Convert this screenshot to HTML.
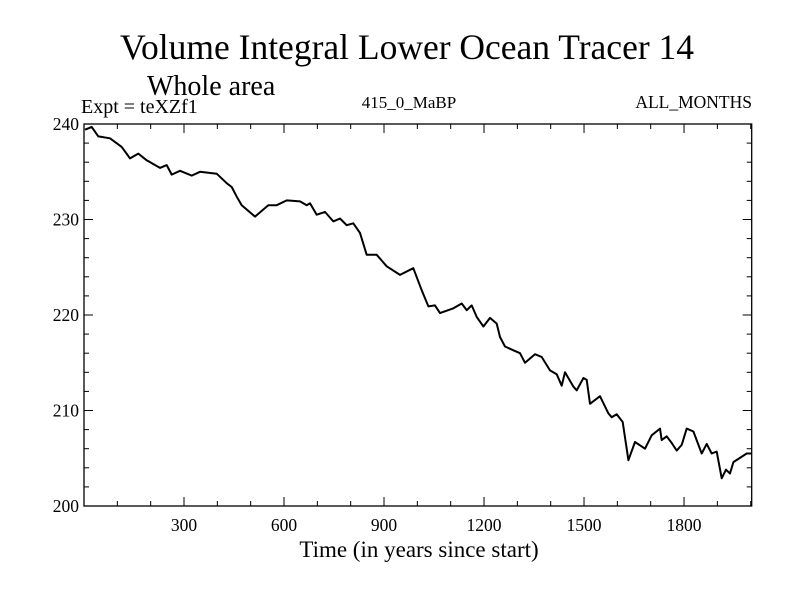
<!DOCTYPE html>
<html><head><meta charset="utf-8"><style>
body{margin:0;background:#fff}
svg text{font-family:"Liberation Serif",serif;fill:#000}
</style></head><body>
<svg id="chart" width="800" height="600" xmlns="http://www.w3.org/2000/svg">
<rect width="800" height="600" fill="#fff"/>
<text x="407" y="59" font-size="35.5" text-anchor="middle">Volume Integral Lower Ocean Tracer 14</text>
<text x="147" y="95" font-size="28">Whole area</text>
<text x="81" y="113" font-size="20">Expt = teXZf1</text>
<text x="409" y="108" font-size="17" text-anchor="middle">415_0_MaBP</text>
<text x="752" y="108" font-size="17.5" text-anchor="end">ALL_MONTHS</text>
<text x="419" y="557" font-size="23" text-anchor="middle">Time (in years since start)</text>
<g id="axes"></g>
<g id="series"></g>
<rect x="84" y="124" width="667.7" height="382" fill="none" stroke="#000" stroke-width="1.3"/>
</svg>
<script>
const years=[3,23,43,78,113,138,163,188,228,248,263,288,323,348,398,428,443,458,473,513,553,578,608,648,668,678,698,723,748,768,788,808,828,848,878,908,948,988,1013,1033,1053,1068,1108,1133,1148,1163,1178,1198,1218,1238,1248,1263,1288,1308,1323,1353,1373,1398,1418,1433,1443,1468,1478,1498,1508,1518,1548,1573,1583,1598,1616,1633,1653,1683,1703,1728,1733,1748,1763,1778,1793,1808,1828,1853,1868,1883,1898,1913,1926,1938,1948,1988,2003];
const values=[239.4,239.7,238.7,238.5,237.6,236.4,236.9,236.2,235.4,235.7,234.7,235.1,234.6,235.0,234.8,233.8,233.4,232.4,231.5,230.3,231.5,231.5,232.0,231.9,231.5,231.7,230.5,230.8,229.8,230.1,229.4,229.6,228.6,226.3,226.3,225.1,224.2,224.9,222.6,220.9,221.0,220.2,220.7,221.2,220.5,221.0,219.8,218.8,219.7,219.1,217.7,216.7,216.3,216.0,215.0,215.9,215.6,214.2,213.8,212.6,214.0,212.5,212.1,213.4,213.2,210.7,211.5,209.7,209.3,209.6,208.8,204.8,206.7,206.0,207.4,208.1,206.9,207.3,206.6,205.8,206.4,208.1,207.8,205.5,206.5,205.5,205.7,202.9,203.8,203.4,204.6,205.5,205.5];
const xTicks=[300,600,900,1200,1500,1800];
const yTicks=[200,210,220,230,240];
const X0=84,X1=751.7,Y0=506,Y1=124,XMIN=0,XMAX=2003,YMIN=200,YMAX=240;
const sx=v=>X0+(v-XMIN)/(XMAX-XMIN)*(X1-X0);
const sy=v=>Y0-(v-YMIN)/(YMAX-YMIN)*(Y0-Y1);
const NS="http://www.w3.org/2000/svg";
const axes=document.getElementById('axes');
function ln(x1,y1,x2,y2,name){const l=document.createElementNS(NS,'line');l.setAttribute('x1',x1);l.setAttribute('y1',y1);l.setAttribute('x2',x2);l.setAttribute('y2',y2);l.setAttribute('stroke','#000');l.setAttribute('stroke-width','1');


axes.appendChild(l);}
for(let v=100;v<XMAX;v+=100){const x=sx(v),m=v%300===0,len=m?9:5;ln(x,Y0,x,Y0-len,'x-tick');ln(x,Y1,x,Y1+len,'x-tick-top');}
for(let v=202;v<YMAX;v+=2){const y=sy(v),m=v%10===0,len=m?9:5;ln(X0,y,X0+len,y,'y-tick');ln(X1,y,X1-len,y,'y-tick-right');}
xTicks.forEach(v=>{const t=document.createElementNS(NS,'text');t.setAttribute('x',sx(v));t.setAttribute('y',Y0+25);t.setAttribute('font-size','17.5');t.setAttribute('text-anchor','middle');t.textContent=v;


axes.appendChild(t);});
yTicks.forEach(v=>{const t=document.createElementNS(NS,'text');t.setAttribute('x',X0-5);t.setAttribute('y',sy(v)+6);t.setAttribute('font-size','17.5');t.setAttribute('text-anchor','end');t.textContent=v;


axes.appendChild(t);});
const p=document.createElementNS(NS,'polyline');
p.setAttribute('points',years.map((y,i)=>sx(y).toFixed(1)+','+sy(values[i]).toFixed(1)).join(' '));
p.setAttribute('fill','none');p.setAttribute('stroke','#000');p.setAttribute('stroke-width','2');p.setAttribute('stroke-linejoin','round');


document.getElementById('series').appendChild(p);
</script>
</body></html>
